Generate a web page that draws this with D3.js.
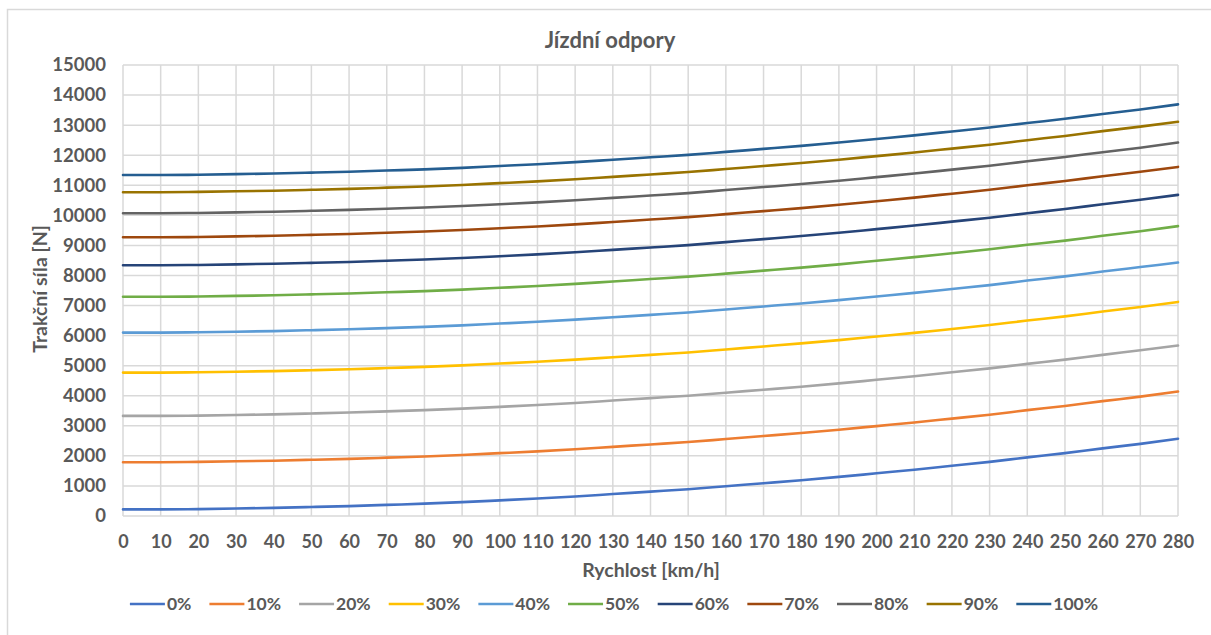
<!DOCTYPE html>
<html>
<head>
<meta charset="utf-8">
<script src="https://cdn.jsdelivr.net/npm/d3@7"></script>
<style>
  html, body { margin: 0; padding: 0; background: #fff; }
  svg { display: block; }
  text { font-family: Lato, "Open Sans", sans-serif; font-weight: bold; fill: #595959; }
</style>
</head>
<body>
<svg id="chart" width="1211" height="635"></svg>
<script>
// Speed categories [km/h]
const speeds = [0,10,20,30,40,50,60,70,80,90,100,110,120,130,140,150,160,170,180,190,200,210,220,230,240,250,260,270,280];

// Series names (legend labels)
const seriesNames = ["0%","10%","20%","30%","40%","50%","60%","70%","80%","90%","100%"];

// Tractive force [N] for each series
const s0   = [220,220,230,250,270,300,330,370,410,460,520,580,650,730,810,890,990,1090,1190,1300,1420,1540,1670,1800,1950,2090,2250,2400,2570];
const s10  = [1790,1790,1800,1820,1840,1870,1900,1940,1980,2030,2090,2150,2220,2300,2380,2460,2560,2660,2760,2870,2990,3110,3240,3370,3520,3660,3820,3970,4140];
const s20  = [3330,3330,3340,3360,3380,3410,3440,3480,3520,3570,3630,3690,3760,3840,3920,4000,4100,4200,4300,4410,4530,4650,4780,4910,5060,5200,5360,5510,5670];
const s30  = [4770,4770,4780,4800,4820,4850,4880,4920,4960,5010,5070,5130,5200,5280,5360,5440,5540,5640,5740,5850,5970,6090,6220,6350,6500,6640,6800,6950,7120];
const s40  = [6100,6100,6110,6130,6150,6180,6210,6250,6290,6340,6400,6460,6530,6610,6690,6770,6870,6970,7070,7180,7300,7420,7550,7680,7830,7970,8130,8280,8430];
const s50  = [7290,7290,7300,7320,7340,7370,7400,7440,7480,7530,7590,7650,7720,7800,7880,7960,8060,8160,8260,8370,8490,8610,8740,8870,9020,9160,9320,9470,9640];
const s60  = [8340,8340,8350,8370,8390,8420,8450,8490,8530,8580,8640,8700,8770,8850,8930,9010,9110,9210,9310,9420,9540,9660,9790,9920,10070,10210,10370,10520,10680];
const s70  = [9270,9270,9280,9300,9320,9350,9380,9420,9460,9510,9570,9630,9700,9780,9860,9940,10040,10140,10240,10350,10470,10590,10720,10850,11000,11140,11300,11450,11610];
const s80  = [10070,10070,10080,10100,10120,10150,10180,10220,10260,10310,10370,10430,10500,10580,10660,10740,10840,10940,11040,11150,11270,11390,11520,11650,11800,11940,12100,12250,12420];
const s90  = [10770,10770,10780,10800,10820,10850,10880,10920,10960,11010,11070,11130,11200,11280,11360,11440,11540,11640,11740,11850,11970,12090,12220,12350,12500,12640,12800,12950,13110];
const s100 = [11340,11340,11350,11370,11390,11420,11450,11490,11530,11580,11640,11700,11770,11850,11930,12010,12110,12210,12310,12420,12540,12660,12790,12920,13070,13210,13370,13520,13690];

// Y axis tick values
const yTicks = [0,1000,2000,3000,4000,5000,6000,7000,8000,9000,10000,11000,12000,13000,14000,15000];

const colors = ["#4472C4","#ED7D31","#A5A5A5","#FFC000","#5B9BD5","#70AD47","#264478","#9E480E","#636363","#997300","#255E91"];

const seriesValues = [s0,s10,s20,s30,s40,s50,s60,s70,s80,s90,s100];
const series = seriesNames.map((name, i) => ({
  name,
  color: colors[i],
  points: speeds.map((v, j) => ({ v, f: seriesValues[i][j] }))
}));

const svg = d3.select("#chart");
svg.append("rect").attr("width", 1211).attr("height", 635).attr("fill", "#fff");

// Chart frame
svg.append("rect")
  .attr("x", 7.5).attr("y", 9.5)
  .attr("width", 1230).attr("height", 640)
  .attr("fill", "none").attr("stroke", "#d9d9d9").attr("stroke-width", 1.5);

const plot = { left: 123, right: 1178, top: 65, bottom: 516 };

const x = d3.scaleLinear().domain([0, 280]).range([plot.left, plot.right]);
const y = d3.scaleLinear().domain([0, 15000]).range([plot.bottom, plot.top]);

// Gridlines
const grid = svg.append("g");
grid.selectAll("line.h").data(yTicks).join("line")
  .attr("x1", plot.left).attr("x2", plot.right)
  .attr("y1", d => y(d)).attr("y2", d => y(d))
  .attr("stroke", "#d9d9d9").attr("stroke-width", 1.5);
grid.selectAll("line.v").data(speeds).join("line")
  .attr("x1", d => x(d)).attr("x2", d => x(d))
  .attr("y1", plot.top).attr("y2", plot.bottom)
  .attr("stroke", "#d9d9d9").attr("stroke-width", 1.5);

// Y axis labels
const yAxis = d3.axisLeft(y).tickValues(yTicks).tickSize(0).tickPadding(17).tickFormat(d3.format("d"));
const gy = svg.append("g").attr("transform", `translate(${plot.left},0)`).call(yAxis);
gy.select(".domain").remove();
gy.selectAll("text").attr("font-size", 18.5).attr("font-family", null).attr("fill", "#595959");

// X axis labels
const xAxis = d3.axisBottom(x).tickValues(speeds).tickSize(0).tickPadding(19).tickFormat(d3.format("d"));
const gx = svg.append("g").attr("transform", `translate(0,${plot.bottom})`).call(xAxis);
gx.select(".domain").remove();
gx.selectAll("text").attr("font-size", 18).attr("font-family", null).attr("fill", "#595959");

// Series lines
const line = d3.line().x(d => x(d.v)).y(d => y(d.f)).curve(d3.curveMonotoneX);
svg.append("g").selectAll("path").data(series).join("path")
  .attr("d", d => line(d.points))
  .attr("fill", "none")
  .attr("stroke", d => d.color)
  .attr("stroke-width", 2.6)
  .attr("stroke-linecap", "round");

// Titles
svg.append("text").attr("x", 610).attr("y", 48).attr("text-anchor", "middle")
  .attr("font-size", 22).text("Jízdní odpory");
svg.append("text").attr("x", 651).attr("y", 577).attr("text-anchor", "middle")
  .attr("font-size", 19.5).text("Rychlost [km/h]");
svg.append("text").attr("transform", "translate(47,289) rotate(-90)").attr("text-anchor", "middle")
  .attr("font-size", 19.5).text("Trakční síla [N]");

// Legend
const legend = svg.append("g");
const items = legend.selectAll("g").data(series).join("g");
items.append("line").attr("x1", 0).attr("x2", 35).attr("y1", 0).attr("y2", 0)
  .attr("stroke", d => d.color).attr("stroke-width", 2.6);
items.append("text").attr("x", 37).attr("y", 6).attr("font-size", 17.5).text(d => d.name);
let cursor = 0;
items.each(function () {
  const w = d3.select(this).select("text").node().getComputedTextLength();
  d3.select(this).attr("transform", `translate(${cursor},0)`);
  cursor += 37 + w + 18;
});
const legendWidth = cursor - 18;
legend.attr("transform", `translate(${614 - legendWidth / 2},604)`);
</script>
</body>
</html>
